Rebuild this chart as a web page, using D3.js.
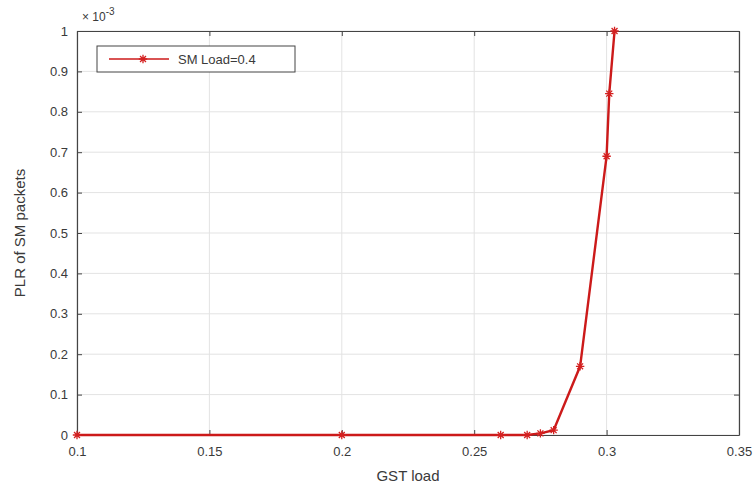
<!DOCTYPE html>
<html>
<head>
<meta charset="utf-8">
<script src="https://cdn.jsdelivr.net/npm/d3@7"></script>
<style>
  body { margin: 0; background: #fff; }
  svg { font-family: "Liberation Sans", Arial, sans-serif; }
</style>
</head>
<body>
<div id="chart"></div>
<script>
// data (PLR in units of 1e-3)
const gstLoad = [0.1, 0.2, 0.26, 0.27, 0.275, 0.28, 0.29, 0.3, 0.301, 0.303];
const plr = [0, 0, 0, 0, 0.004, 0.012, 0.17, 0.69, 0.845, 1.0];
const xTicks = [0.1, 0.15, 0.2, 0.25, 0.3, 0.35];
const yTicks = [0, 0.1, 0.2, 0.3, 0.4, 0.5, 0.6, 0.7, 0.8, 0.9, 1];
const seriesName = "SM Load=0.4";

const W = 756, H = 489;
const margin = {top: 31, right: 17, bottom: 54, left: 77};
const width = W - margin.left - margin.right;
const height = H - margin.top - margin.bottom;

const svg = d3.select("#chart").append("svg")
    .attr("width", W)
    .attr("height", H);

const g = svg.append("g")
    .attr("transform", `translate(${margin.left},${margin.top})`);

const x = d3.scaleLinear().domain([0.1, 0.35]).range([0, width]);
const y = d3.scaleLinear().domain([0, 1]).range([height, 0]);

//grid lines
g.append("g").selectAll("line.gx")
    .data(xTicks)
    .join("line")
    .attr("x1", d => x(d)).attr("x2", d => x(d))
    .attr("y1", 0).attr("y2", height)
    .attr("stroke", "#e3e3e3").attr("stroke-width", 1);
g.append("g").selectAll("line.gy")
    .data(yTicks)
    .join("line")
    .attr("x1", 0).attr("x2", width)
    .attr("y1", d => y(d)).attr("y2", d => y(d))
    .attr("stroke", "#e3e3e3").attr("stroke-width", 1);

// axes (ticks point inwards, like matlab)
const fmt = d => String(d);
g.append("g")
    .attr("transform", `translate(0,${height})`)
    .call(d3.axisBottom(x).tickValues(xTicks).tickFormat(fmt).tickSizeInner(-5).tickSizeOuter(0).tickPadding(12));
g.append("g")
    .call(d3.axisLeft(y).tickValues(yTicks).tickFormat(fmt).tickSizeInner(-5).tickSizeOuter(0).tickPadding(9));
g.append("g")
    .call(d3.axisTop(x).tickValues(xTicks).tickFormat("").tickSizeInner(-5).tickSizeOuter(0));
g.append("g")
    .attr("transform", `translate(${width},0)`)
    .call(d3.axisRight(y).tickValues(yTicks).tickFormat("").tickSizeInner(-5).tickSizeOuter(0));

g.selectAll(".domain").attr("stroke", "#444").attr("stroke-width", 1.2);
g.selectAll(".tick line").attr("stroke", "#444");
g.selectAll(".tick text").attr("fill", "#3a3a3a").style("font-size", "13px");

// exponent label
svg.append("text")
    .attr("x", margin.left + 5).attr("y", margin.top - 10)
    .attr("fill", "#3a3a3a").style("font-size", "12px")
    .text("\u00d7 10")
  .append("tspan")
    .attr("dy", -6).style("font-size", "10px")
    .text("-3");

// series line
const line = d3.line().x((d, i) => x(gstLoad[i])).y(d => y(d));
g.append("path")
    .datum(plr)
    .attr("fill", "none")
    .attr("stroke", "#cc1a1a")
    .attr("stroke-width", 2.4)
    .attr("d", line);

// star markers
const star = (sel, cx, cy, r) => {
    const p = [];
    [0, 45, 90, 135].forEach(a => {
        const rad = a * Math.PI / 180;
        p.push(`M${cx - r * Math.cos(rad)},${cy - r * Math.sin(rad)}L${cx + r * Math.cos(rad)},${cy + r * Math.sin(rad)}`);
    });
    sel.append("path").attr("d", p.join("")).attr("stroke", "#d42020").attr("stroke-width", 1.3).attr("fill", "none");
};
plr.forEach((d, i) => star(g, x(gstLoad[i]), y(d), 4.2));

// legend
const leg = g.append("g").attr("transform", "translate(20,15)");
leg.append("rect")
    .attr("width", 198).attr("height", 26)
    .attr("fill", "#fff").attr("stroke", "#444").attr("stroke-width", 1);
leg.append("line")
    .attr("x1", 12).attr("x2", 72).attr("y1", 13).attr("y2", 13)
    .attr("stroke", "#cc1a1a").attr("stroke-width", 1.6);
star(leg, 46, 13, 4.2);
leg.append("text")
    .attr("x", 81).attr("y", 18)
    .attr("fill", "#3a3a3a").style("font-size", "13px")
    .text(seriesName);

// axis titles
svg.append("text")
    .attr("x", margin.left + width / 2).attr("y", H - 8)
    .attr("text-anchor", "middle")
    .attr("fill", "#3a3a3a").style("font-size", "15px")
    .text("GST load");
svg.append("text")
    .attr("transform", `translate(25,${margin.top + height / 2}) rotate(-90)`)
    .attr("text-anchor", "middle")
    .attr("fill", "#3a3a3a").style("font-size", "15px")
    .text("PLR of SM packets");
</script>
</body>
</html>
